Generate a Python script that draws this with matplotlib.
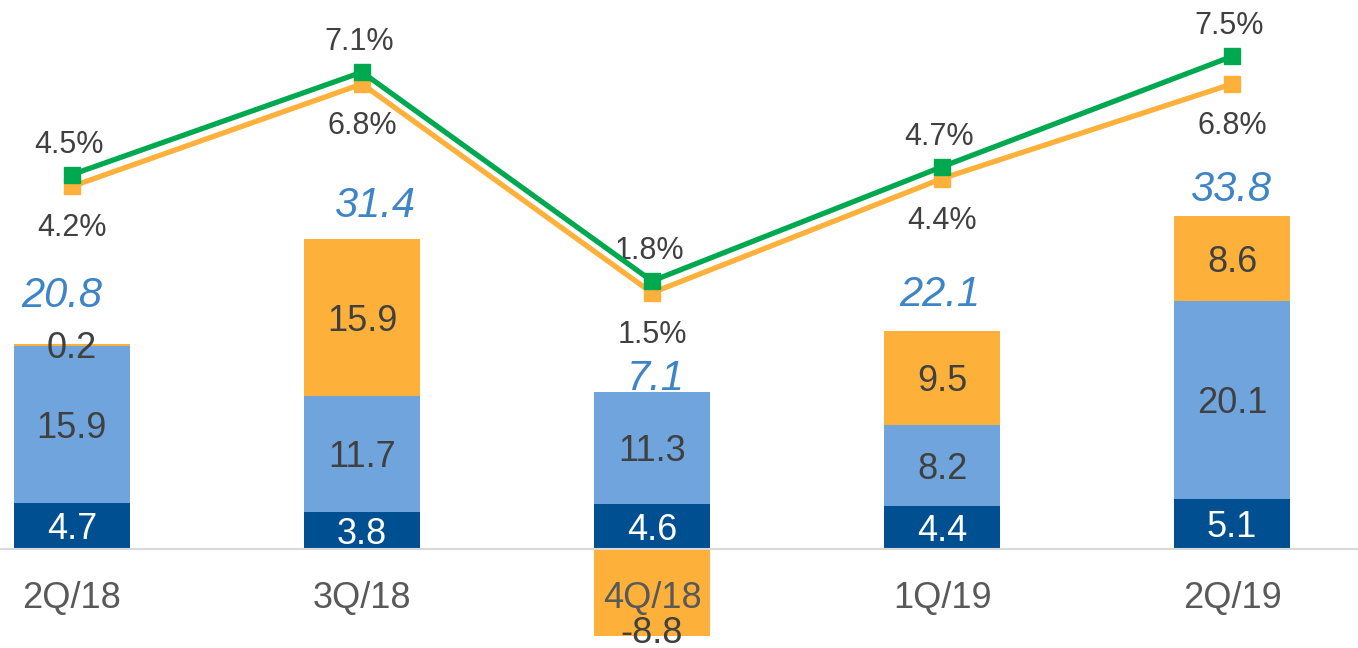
import matplotlib
matplotlib.use("Agg")
import matplotlib.pyplot as plt
import numpy as np

# ---- data ----
categories = ["2Q/18", "3Q/18", "4Q/18", "1Q/19", "2Q/19"]
seg_dark = [4.7, 3.8, 4.6, 4.4, 5.1]
seg_light = [15.9, 11.7, 11.3, 8.2, 20.1]
seg_orange = [0.2, 15.9, -8.8, 9.5, 8.6]
totals = [20.8, 31.4, 7.1, 22.1, 33.8]
pct_green = [4.5, 7.1, 1.8, 4.7, 7.5]
pct_orange = [4.2, 6.8, 1.5, 4.4, 6.8]

# label placement tweaks (pixel offsets for the italic totals)
total_dx = [-10, 13, 4, -2, -2]
total_dy = [48, 33, 13, 36, 26]

C_DARK = "#004F91"
C_LIGHT = "#6FA4DC"
C_ORANGE = "#FDB13B"
C_GREEN = "#00A94F"
C_TOTAL = "#3D85C6"
C_TEXT = "#404040"

plt.rcParams['font.family'] = ['Liberation Sans', 'DejaVu Sans']

fig = plt.figure(figsize=(13.58, 6.48), dpi=100)
ax = fig.add_axes([0, 0, 1, 1])
x = np.arange(len(categories))
w = 0.4
PX = 0.72  # points per pixel at dpi 100

dark = np.array(seg_dark)
light = np.array(seg_light)
orng = np.array(seg_orange)

ax.bar(x, dark, w, color=C_DARK, zorder=2)
ax.bar(x, light, w, bottom=dark, color=C_LIGHT, zorder=2)
orange_bottom = np.where(orng >= 0, dark + light, 0)
ax.bar(x, orng, w, bottom=orange_bottom, color=C_ORANGE, zorder=2)

ax.set_xlim(-0.248, 4.434)
ax.set_ylim(-10.05, 55.7)
ax.axhline(0, color="#D9D9D9", lw=1.5, zorder=3)
for s in ax.spines.values():
    s.set_visible(False)
ax.set_xticks([])
ax.set_yticks([])


def lab(axis, text, xy, dx, dy, **kw):
    axis.annotate(text, xy, xytext=(dx * PX, dy * PX), textcoords="offset points",
                  ha="center", va="center", **kw)


for i in range(len(x)):
    lab(ax, f"{seg_dark[i]:.1f}", (x[i], dark[i] / 2), 0, -4,
        color="white", fontsize=26, zorder=5)
    lab(ax, f"{seg_light[i]:.1f}", (x[i], dark[i] + light[i] / 2), 0, -4,
        color=C_TEXT, fontsize=26, zorder=5)
    if orng[i] >= 0:
        yo = dark[i] + light[i] + orng[i] / 2
        lab(ax, f"{seg_orange[i]:.1f}", (x[i], yo), 0, -4,
            color=C_TEXT, fontsize=26, zorder=5)
    else:
        lab(ax, f"{seg_orange[i]:.1f}", (x[i], orng[i]), 0, 2,
            color=C_TEXT, fontsize=26, zorder=5)
    top = dark[i] + light[i] + max(orng[i], 0)
    lab(ax, f"{totals[i]:.1f}", (x[i], top), total_dx[i], total_dy[i],
        color=C_TOTAL, fontsize=30, style="italic", zorder=5)
    lab(ax, categories[i], (x[i], 0), 0, -50,
        color="#595959", fontsize=26, zorder=6)

# lines on secondary axis
ax2 = ax.twinx()
ax2.set_ylim(-7.51, 8.93)
ax2.set_xlim(ax.get_xlim())
for s in ax2.spines.values():
    s.set_visible(False)
ax2.set_yticks([])
ax2.plot(x, pct_orange, color=C_ORANGE, lw=3.8, marker="s", markersize=11,
         zorder=3)
ax2.plot(x, pct_green, color=C_GREEN, lw=3.8, marker="s", markersize=11,
         zorder=4)
for i in range(len(x)):
    lab(ax2, f"{pct_green[i]:.1f}%", (x[i], pct_green[i]), -3, 30,
        color=C_TEXT, fontsize=22)
    lab(ax2, f"{pct_orange[i]:.1f}%", (x[i], pct_orange[i]), 0, -42,
        color=C_TEXT, fontsize=22)

fig.savefig("out.png", dpi=100)
